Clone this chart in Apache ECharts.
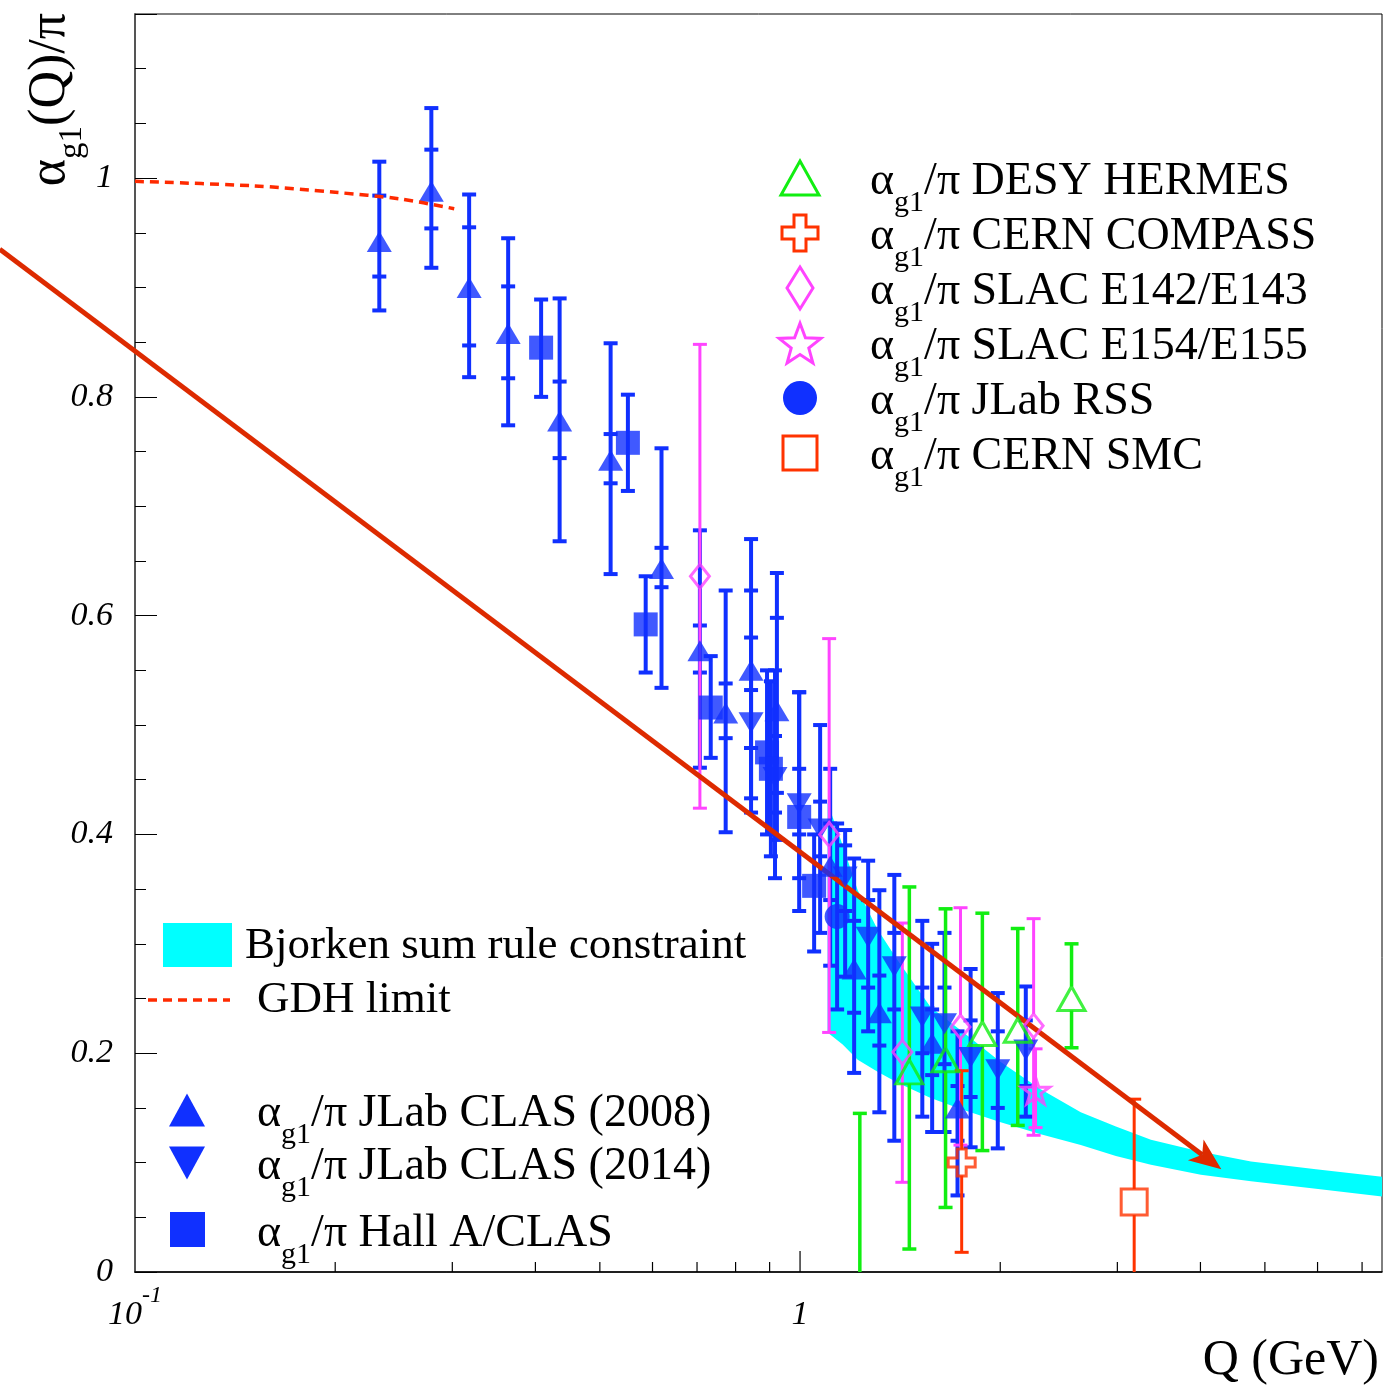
<!DOCTYPE html>
<html>
<head>
<meta charset="utf-8">
<title>alpha_g1 / pi</title>
<script src="https://cdn.jsdelivr.net/npm/echarts@6.0.0/dist/echarts.min.js"></script>
<style>
  html, body { margin: 0; padding: 0; background: #fff; }
  #chart { width: 1400px; height: 1386px; }
</style>
</head>
<body>
<div id="chart"></div>
<script>
// ---- data (Q in GeV, value = alpha_g1/pi) ----

// JLab CLAS (2008), up triangles: total error band and inner (stat) ticks
const clas08Q    = [0.233, 0.279, 0.318, 0.364, 0.435, 0.519, 0.619, 0.707, 0.773, 0.844, 0.923, 1.11, 1.206, 1.316, 1.58, 1.725];
const clas08Val  = [0.942, 0.988, 0.900, 0.858, 0.778, 0.742, 0.643, 0.568, 0.511, 0.550, 0.513, 0.371, 0.277, 0.237, 0.209, 0.150];
const clas08Lo   = [0.879, 0.918, 0.818, 0.774, 0.668, 0.638, 0.534, 0.461, 0.402, 0.433, 0.395, 0.280, 0.182, 0.146, 0.128, 0.070];
const clas08Hi   = [1.015, 1.064, 0.985, 0.945, 0.890, 0.849, 0.753, 0.678, 0.623, 0.670, 0.639, 0.460, 0.378, 0.349, 0.300, 0.220];
const clas08StLo = [0.910, 0.954, 0.847, 0.817, 0.744, 0.721, 0.626, 0.548, 0.488, 0.479, 0.438, 0.340, 0.237, 0.207, 0.180, 0.120];
const clas08StHi = [0.984, 1.026, 0.955, 0.901, 0.814, 0.766, 0.662, 0.591, 0.538, 0.623, 0.598, 0.410, 0.321, 0.271, 0.240, 0.170];

// JLab CLAS (2014), down triangles
const clas14Q    = [0.844, 0.917, 0.997, 1.072, 1.169, 1.266, 1.386, 1.527, 1.649, 1.805, 1.983, 2.185];
const clas14Val  = [0.502, 0.452, 0.428, 0.405, 0.361, 0.306, 0.279, 0.233, 0.227, 0.196, 0.185, 0.203];
const clas14Lo   = [0.420, 0.360, 0.330, 0.310, 0.270, 0.220, 0.120, 0.142, 0.128, 0.114, 0.113, 0.142];
const clas14Hi   = [0.580, 0.550, 0.530, 0.500, 0.404, 0.376, 0.363, 0.321, 0.310, 0.277, 0.255, 0.261];
const clas14StLo = [0.479, 0.420, 0.400, 0.380, 0.330, 0.260, 0.240, 0.200, 0.190, 0.160, 0.150, 0.170];
const clas14StHi = [0.532, 0.490, 0.460, 0.430, 0.390, 0.340, 0.310, 0.260, 0.260, 0.230, 0.220, 0.230];

// Hall A/CLAS, filled squares
const hallQ   = [0.408, 0.551, 0.586, 0.734, 0.892, 0.904, 0.997, 1.05];
const hallVal = [0.845, 0.758, 0.592, 0.516, 0.475, 0.460, 0.416, 0.353];
const hallLo  = [0.800, 0.714, 0.548, 0.470, 0.400, 0.380, 0.360, 0.293];
const hallHi  = [0.889, 0.802, 0.636, 0.563, 0.550, 0.540, 0.530, 0.400];

// JLab RSS, filled circle
const rssQ = [1.137], rssVal = [0.325], rssLo = [0.240], rssHi = [0.410];

// SLAC E142/E143, open diamonds
const e143Q   = [0.707, 1.106, 1.425, 1.743, 2.245];
const e143Val = [0.636, 0.400, 0.201, 0.224, 0.225];
const e143Lo  = [0.424, 0.219, 0.082, 0.116, 0.125];
const e143Hi  = [0.848, 0.579, 0.319, 0.333, 0.323];

// SLAC E154/E155, open star
const e155Q = [2.26], e155Val = [0.166], e155Lo = [0.132], e155Hi = [0.204];

// DESY HERMES, open triangles (first marker sits below the axis)
const hermesQ   = [1.23, 1.46, 1.655, 1.88, 2.125, 2.56];
const hermesVal = [-0.100, 0.183, 0.194, 0.218, 0.221, 0.250];
const hermesLo  = [-0.345, 0.021, 0.059, 0.111, 0.134, 0.205];
const hermesHi  = [0.145, 0.352, 0.332, 0.328, 0.314, 0.300];

// CERN COMPASS (open cross) and CERN SMC (open square)
const compassQ = [1.75], compassVal = [0.100], compassLo = [0.018], compassHi = [0.184];
const smcQ = [3.18], smcVal = [0.064], smcLo = [-0.030], smcHi = [0.158];

// Bjorken sum rule band
const bandQ  = [1.100, 1.159, 1.221, 1.308, 1.402, 1.572, 1.744, 2.003, 2.301, 2.643, 2.985, 3.370, 4.006, 4.765, 5.967, 7.50];
const bandHi = [0.429, 0.390, 0.349, 0.313, 0.285, 0.242, 0.221, 0.192, 0.167, 0.146, 0.133, 0.121, 0.110, 0.101, 0.094, 0.087];
const bandLo = [0.219, 0.208, 0.194, 0.183, 0.173, 0.159, 0.149, 0.137, 0.126, 0.116, 0.106, 0.098, 0.089, 0.083, 0.076, 0.069];

// GDH limit (dashed) and the straight red line ending in an arrow
const gdhQ   = [0.10, 0.15, 0.20, 0.25, 0.302];
const gdhVal = [0.997, 0.993, 0.987, 0.981, 0.972];
const lineQ   = [0.0626, 4.30];
const lineVal = [0.935, 0.094];

// axis ticks
const xTickVals = [0.2, 0.3, 0.4, 0.5, 0.6, 0.7, 0.8, 0.9, 1, 2, 3, 4, 5, 6, 7];

// ---- styling ----
const SERIF = '"Liberation Serif", "DejaVu Serif", serif';
const BLUE = '#1030ff';
const GREEN = '#11ee11';
const MAGENTA = '#ff44ff';
const RED = '#ff3300';
const LINE_RED = '#dd2a00';
const GDH_RED = '#ff2a00';
const CYAN = '#00ffff';

const STAR = 'path://M50,0 L61.23,34.55 L97.55,34.55 L68.16,55.9 L79.39,90.45 L50,69.1 L20.61,90.45 L31.84,55.9 L2.45,34.55 L38.77,34.55 Z';
const CROSS = 'path://M1,0 L2,0 L2,1 L3,1 L3,2 L2,2 L2,3 L1,3 L1,2 L0,2 L0,1 L1,1 Z';

function rows(q, v, lo, hi, sLo, sHi) {
  return q.map((x, i) => [x, v[i], lo[i], hi[i], sLo ? sLo[i] : null, sHi ? sHi[i] : null]);
}

// vertical error bar with end caps, optional inner caps, and a gap for open markers
function barRenderer(color, width, gap) {
  return function (params, api) {
    const q = api.value(0);
    const c = api.coord([q, api.value(1)]);
    const lo = api.coord([q, api.value(2)])[1];
    const hi = api.coord([q, api.value(3)])[1];
    const x = c[0];
    const style = { stroke: color, lineWidth: width };
    const seg = (x1, y1, x2, y2) => ({ type: 'line', shape: { x1: x1, y1: y1, x2: x2, y2: y2 }, style: style });
    const kids = [];
    if (gap) {
      if (c[1] - gap > hi) kids.push(seg(x, hi, x, c[1] - gap));
      if (c[1] + gap < lo) kids.push(seg(x, c[1] + gap, x, lo));
    } else {
      kids.push(seg(x, hi, x, lo));
    }
    const half = 7;
    kids.push(seg(x - half, hi, x + half, hi));
    kids.push(seg(x - half, lo, x + half, lo));
    const sl = api.value(4), sh = api.value(5);
    if (sl != null && !isNaN(sl)) {
      const y1 = api.coord([q, sl])[1], y2 = api.coord([q, sh])[1];
      kids.push(seg(x - half, y1, x + half, y1));
      kids.push(seg(x - half, y2, x + half, y2));
    }
    return { type: 'group', children: kids };
  };
}

function barSeries(data, color, width, gap) {
  return { type: 'custom', data: data, clip: true, silent: true, renderItem: barRenderer(color, width, gap) };
}

function markerSeries(q, v, symbol, size, itemStyle, rotate) {
  return {
    type: 'scatter', data: q.map((x, i) => [x, v[i]]), symbol: symbol, symbolSize: size,
    symbolRotate: rotate || 0, symbolKeepAspect: true, itemStyle: itemStyle, silent: true, clip: true
  };
}

const open = c => ({ color: 'rgba(0,0,0,0)', borderColor: c, borderWidth: 3 });

// ---- legend helpers (graphic elements) ----
const RICH = {
  m: { fontFamily: SERIF, fontSize: 46, lineHeight: 48, verticalAlign: 'top', fill: '#000' },
  s: { fontFamily: SERIF, fontSize: 30, lineHeight: 30, padding: [29, 0, 0, 0], verticalAlign: 'top', fill: '#000' }
};
const RICH_TITLE = {
  m: { fontFamily: SERIF, fontSize: 52, lineHeight: 54, verticalAlign: 'top', fill: '#000' },
  s: { fontFamily: SERIF, fontSize: 33, lineHeight: 33, padding: [32, 0, 0, 0], verticalAlign: 'top', fill: '#000' }
};

function alphaText(x, cy, tail) {
  return {
    type: 'text', x: x, y: cy + 5, silent: true,
    style: { text: '{m|α}{s|g1}{m|' + tail + '}', align: 'left', verticalAlign: 'middle', rich: RICH }
  };
}

function plainText(x, cy, txt, size, align) {
  return {
    type: 'text', x: x, y: cy, silent: true,
    style: { text: txt, fontFamily: SERIF, fontSize: size, fill: '#000', align: align || 'left', verticalAlign: 'middle' }
  };
}

function triangle(cx, cy, w, h, down, style) {
  const t = down ? [[cx - w / 2, cy - h / 2], [cx + w / 2, cy - h / 2], [cx, cy + h / 2]]
                 : [[cx - w / 2, cy + h / 2], [cx + w / 2, cy + h / 2], [cx, cy - h / 2]];
  return { type: 'polygon', silent: true, shape: { points: t }, style: style };
}

function crossShape(cx, cy, s, style) {
  const a = s / 2, b = s / 6;
  const p = [[-b, -a], [b, -a], [b, -b], [a, -b], [a, b], [b, b], [b, a], [-b, a], [-b, b], [-a, b], [-a, -b], [-b, -b]];
  return { type: 'polygon', silent: true, shape: { points: p.map(d => [cx + d[0], cy + d[1]]) }, style: style };
}

function starShape(cx, cy, r, style) {
  const p = [];
  for (let i = 0; i < 10; i++) {
    const ang = Math.PI * i / 5;
    const rr = i % 2 ? r * 0.42 : r;
    p.push([cx + rr * Math.sin(ang), cy - rr * Math.cos(ang) + r * 0.1]);
  }
  return { type: 'polygon', silent: true, shape: { points: p }, style: style };
}

const LX = 800, TX = 870;
const legendElements = [
  // top-right block
  triangle(LX, 178, 38, 34, false, { fill: 'none', stroke: GREEN, lineWidth: 3 }),
  alphaText(TX, 178, '/π DESY HERMES'),
  crossShape(LX, 233, 36, { fill: 'none', stroke: RED, lineWidth: 3 }),
  alphaText(TX, 233, '/π CERN COMPASS'),
  { type: 'polygon', silent: true, shape: { points: [[LX, 267], [LX + 13, 288], [LX, 309], [LX - 13, 288]] }, style: { fill: 'none', stroke: MAGENTA, lineWidth: 3 } },
  alphaText(TX, 288, '/π SLAC E142/E143'),
  starShape(LX, 343, 22, { fill: 'none', stroke: MAGENTA, lineWidth: 3 }),
  alphaText(TX, 343, '/π SLAC E154/E155'),
  { type: 'circle', silent: true, shape: { cx: LX, cy: 398, r: 17 }, style: { fill: BLUE } },
  alphaText(TX, 398, '/π JLab RSS'),
  { type: 'rect', silent: true, shape: { x: LX - 17, y: 436, width: 34, height: 34 }, style: { fill: 'none', stroke: RED, lineWidth: 3 } },
  alphaText(TX, 453, '/π CERN SMC'),

  // bottom-left block
  { type: 'rect', silent: true, shape: { x: 163, y: 923, width: 69, height: 44 }, style: { fill: CYAN } },
  plainText(245, 946, 'Bjorken sum rule constraint', 45),
  { type: 'line', silent: true, shape: { x1: 148, y1: 1000, x2: 230, y2: 1000 }, style: { stroke: GDH_RED, lineWidth: 3.5, lineDash: [9, 6] } },
  plainText(257, 1000, 'GDH limit', 45),
  triangle(187, 1110, 36, 33, false, { fill: BLUE }),
  alphaText(257, 1110, '/π JLab CLAS (2008)'),
  triangle(187, 1163, 36, 33, true, { fill: BLUE }),
  alphaText(257, 1163, '/π JLab CLAS (2014)'),
  { type: 'rect', silent: true, shape: { x: 170, y: 1212, width: 35, height: 35 }, style: { fill: BLUE } },
  alphaText(257, 1230, '/π Hall A/CLAS'),

  // axis titles
  {
    type: 'text', x: 51, y: 13, rotation: Math.PI / 2, silent: true,
    style: { text: '{m|α}{s|g1}{m|(Q)/π}', align: 'right', verticalAlign: 'middle', rich: RICH_TITLE }
  },
  plainText(1379, 1361, 'Q (GeV)', 50, 'right')
];

const isMajorY = v => Math.abs(v * 5 - Math.round(v * 5)) < 1e-6;

const option = {
  animation: false,
  backgroundColor: '#fff',
  grid: {
    left: 135, right: 18, top: 14, bottom: 114,
    show: true, borderColor: '#000', borderWidth: 1, backgroundColor: 'transparent',
    containLabel: false, outerBoundsMode: 'none'
  },
  xAxis: {
    type: 'log', logBase: 10, min: 0.1, max: 7.5,
    axisLine: { show: true, lineStyle: { color: '#000', width: 1.5 } },
    axisTick: { show: false },
    splitLine: { show: false },
    minorTick: { show: false },
    axisLabel: {
      margin: 12,
      color: '#000',
      formatter: function (v) {
        const l = Math.log10(v);
        if (Math.abs(l + 1) < 1e-6) return '{b|10}{p|-1}';
        if (Math.abs(l) < 1e-6) return '{b|1}';
        return '';
      },
      rich: {
        b: { fontFamily: SERIF, fontStyle: 'italic', fontSize: 34, lineHeight: 34, padding: [14, 0, 0, 0], verticalAlign: 'top', color: '#000' },
        p: { fontFamily: SERIF, fontStyle: 'italic', fontSize: 24, lineHeight: 24, verticalAlign: 'top', color: '#000' }
      }
    }
  },
  yAxis: [
    {
      type: 'value', min: 0, max: 1.15, interval: 0.05, position: 'left', offset: 0,
      axisLine: { show: true, lineStyle: { color: '#555', width: 2 } },
      axisTick: { show: true, inside: true, length: 11, lineStyle: { color: '#000', width: 1 } },
      splitLine: { show: false },
      axisLabel: {
        margin: 22, color: '#000', fontFamily: SERIF, fontStyle: 'italic', fontSize: 34,
        formatter: function (v) {
          if (!isMajorY(v) || v > 1.0001) return '';
          if (Math.abs(v) < 1e-6) return '0';
          if (Math.abs(v - 1) < 1e-6) return '1';
          return v.toFixed(1);
        }
      }
    },
    {
      type: 'value', min: 0, max: 1.15, interval: 0.2, position: 'left', offset: 0,
      axisLine: { show: false },
      axisTick: { show: true, inside: true, length: 22, lineStyle: { color: '#000', width: 1 } },
      splitLine: { show: false },
      axisLabel: { show: false }
    }
  ],
  graphic: { elements: legendElements },
  series: [
    // Bjorken sum rule band
    {
      type: 'custom', data: [[bandQ[0], bandLo[0]]], clip: true, silent: true,
      renderItem: function (params, api) {
        const pts = [];
        bandQ.forEach((q, i) => pts.push(api.coord([q, bandHi[i]])));
        for (let i = bandQ.length - 1; i >= 0; i--) pts.push(api.coord([bandQ[i], bandLo[i]]));
        return { type: 'polygon', shape: { points: pts }, style: { fill: CYAN } };
      }
    },
    // x-axis ticks at 2..9 of each decade
    {
      type: 'custom', data: xTickVals.map(v => [v, 0]), clip: false, silent: true,
      renderItem: function (params, api) {
        const v = api.value(0);
        const p = api.coord([v, 0]);
        const len = Math.abs(v - 1) < 1e-9 ? 21 : 10;
        return { type: 'line', shape: { x1: p[0], y1: p[1], x2: p[0], y2: p[1] - len }, style: { stroke: '#000', lineWidth: 1.2 } };
      }
    },
    barSeries(rows(clas14Q, clas14Val, clas14Lo, clas14Hi, clas14StLo, clas14StHi), BLUE, 4, 0),
    markerSeries(clas14Q, clas14Val, 'triangle', [25, 21], { color: BLUE }, 180),
    barSeries(rows(clas08Q, clas08Val, clas08Lo, clas08Hi, clas08StLo, clas08StHi), BLUE, 4, 0),
    markerSeries(clas08Q, clas08Val, 'triangle', [25, 21], { color: BLUE }),
    barSeries(rows(hallQ, hallVal, hallLo, hallHi), BLUE, 4, 0),
    markerSeries(hallQ, hallVal, 'rect', 24, { color: BLUE }),
    barSeries(rows(rssQ, rssVal, rssLo, rssHi), BLUE, 4, 0),
    markerSeries(rssQ, rssVal, 'circle', 25, { color: BLUE }),
    barSeries(rows(e143Q, e143Val, e143Lo, e143Hi), MAGENTA, 3, 12),
    markerSeries(e143Q, e143Val, 'diamond', [19, 24], open(MAGENTA)),
    barSeries(rows(e155Q, e155Val, e155Lo, e155Hi), MAGENTA, 3, 0),
    markerSeries(e155Q, e155Val, STAR, 28, open(MAGENTA)),
    barSeries(rows(hermesQ, hermesVal, hermesLo, hermesHi), GREEN, 3.5, 12),
    markerSeries(hermesQ, hermesVal, 'triangle', [27, 24], open(GREEN)),
    barSeries(rows(compassQ, compassVal, compassLo, compassHi), RED, 3, 13),
    markerSeries(compassQ, compassVal, CROSS, 27, open(RED)),
    barSeries(rows(smcQ, smcVal, smcLo, smcHi), RED, 3, 13),
    markerSeries(smcQ, smcVal, 'rect', 26, open(RED)),
    // GDH limit
    {
      type: 'line', data: gdhQ.map((q, i) => [q, gdhVal[i]]), symbol: 'none', smooth: 0.3, silent: true,
      lineStyle: { color: GDH_RED, width: 3.5, type: [9, 6] }
    },
    // straight red line with a notched arrow head at its end (may run past the left frame)
    {
      type: 'custom', data: [[lineQ[0], lineVal[0], lineQ[1], lineVal[1]]], clip: false, silent: true,
      renderItem: function (params, api) {
        const p0 = api.coord([api.value(0), api.value(1)]);
        const p1 = api.coord([api.value(2), api.value(3)]);
        const dx = p1[0] - p0[0], dy = p1[1] - p0[1];
        const len = Math.sqrt(dx * dx + dy * dy);
        const ux = dx / len, uy = dy / len, nx = -uy, ny = ux;
        const L = 32, W = 13, notch = 8;
        const back = [p1[0] - L * ux, p1[1] - L * uy];
        const mid = [p1[0] - (L - notch) * ux, p1[1] - (L - notch) * uy];
        return {
          type: 'group',
          children: [
            { type: 'line', shape: { x1: p0[0], y1: p0[1], x2: mid[0], y2: mid[1] }, style: { stroke: LINE_RED, lineWidth: 5 } },
            {
              type: 'polygon',
              shape: { points: [p1, [back[0] + W * nx, back[1] + W * ny], mid, [back[0] - W * nx, back[1] - W * ny]] },
              style: { fill: LINE_RED }
            }
          ]
        };
      }
    }
  ]
};

const chart = echarts.init(document.getElementById('chart'));
chart.setOption(option);
window.addEventListener('resize', function () { chart.resize(); });
</script>
</body>
</html>
